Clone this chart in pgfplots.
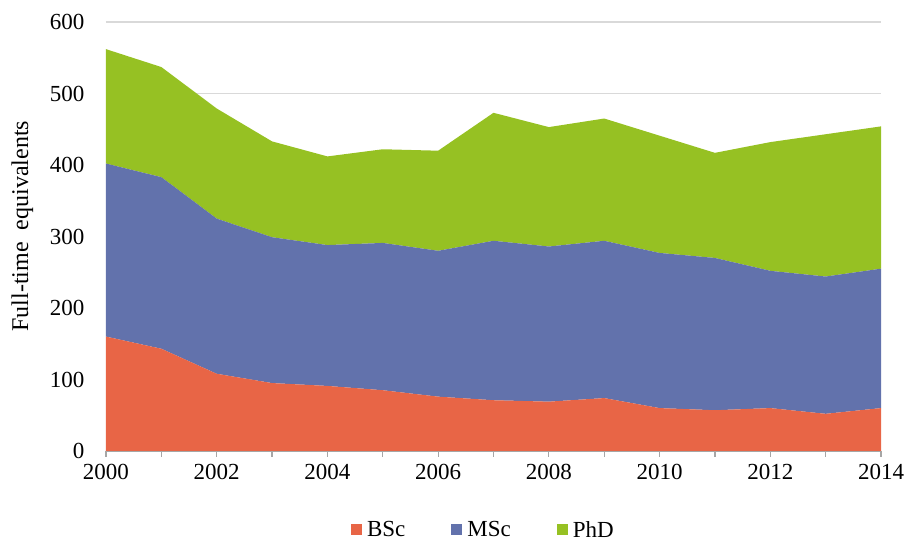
\documentclass[border=0pt]{standalone}
\usepackage{fontspec}
\setmainfont{Liberation Serif}
\usepackage{pgfplots}
\usepackage{pgfplotstable}
\pgfplotsset{compat=1.18}
\definecolor{bsc}{HTML}{E86546}
\definecolor{msc}{HTML}{6272AC}
\definecolor{phd}{HTML}{96C123}
\definecolor{gridgray}{HTML}{D9D9D9}
\definecolor{axgray}{HTML}{A6A6A6}

% year, BSc, MSc, PhD (full-time equivalents)
\pgfplotstableread{
year bsc msc phd
2000 160 242 160
2001 143 240 154
2002 108 217 154
2003 95  204 134
2004 91  197 124
2005 85  206 131
2006 76  204 140
2007 71  223 179
2008 69  217 167
2009 74  220 171
2010 60  217 164
2011 57  213 147
2012 60  192 180
2013 52  192 199
2014 60  195 199
}\datatable

\begin{document}
\begin{tikzpicture}[font=\fontsize{23}{27}\selectfont]
\begin{axis}[
    scale only axis,
    width=775pt, height=429pt,
    xmin=2000, xmax=2014,
    ymin=0, ymax=600,
    ytick={0,100,...,600},
    xtick={2000,2002,...,2014},
    minor xtick={2001,2003,...,2013},
    tick align=outside,
    major tick length=6pt, minor tick length=6pt,
    xtick style={axgray, line width=1.2pt},
    minor x tick style={axgray, line width=1.2pt},
    ytick style={draw=none},
    ymajorgrids=true,
    grid style={gridgray, line width=1.5pt},
    axis lines*=left,
    x axis line style={axgray, line width=1.5pt, -},
    y axis line style={draw=none},
    /pgf/number format/1000 sep={},
    /pgf/number format/assume math mode=true,
    xticklabel style={yshift=-4pt},
    yticklabel style={xshift=-12pt},
    ylabel={Full-time\ \ equivalents},
    ylabel style={at={(axis description cs:-0.108,0.524)}, anchor=center,
        font=\fontsize{24}{28}\selectfont},
    stack plots=y,
    area style,
    axis on top=false,
    legend columns=3,
    legend style={at={(axis description cs:0.487,-0.184)}, anchor=center, draw=none,
        /tikz/every odd column/.append style={column sep=3pt},
        /tikz/every even column/.append style={column sep=44pt}},
    legend image code/.code={\fill[#1] (0pt,-5.5pt) rectangle (11pt,5.5pt);},
]
\addplot[fill=bsc, draw=none] table[x=year, y=bsc] {\datatable} \closedcycle;
\addlegendentry{BSc}
\addplot[fill=msc, draw=none] table[x=year, y=msc] {\datatable} \closedcycle;
\addlegendentry{MSc}
\addplot[fill=phd, draw=none] table[x=year, y=phd] {\datatable} \closedcycle;
\addlegendentry{PhD}
% baseline drawn again over the filled areas
\draw[axgray, line width=1.5pt] (rel axis cs:0,0) -- (rel axis cs:1,0);
\end{axis}
\pgfresetboundingbox
\path[use as bounding box] (-106pt,-94pt) rectangle (799pt,451pt);
\end{tikzpicture}
\end{document}
